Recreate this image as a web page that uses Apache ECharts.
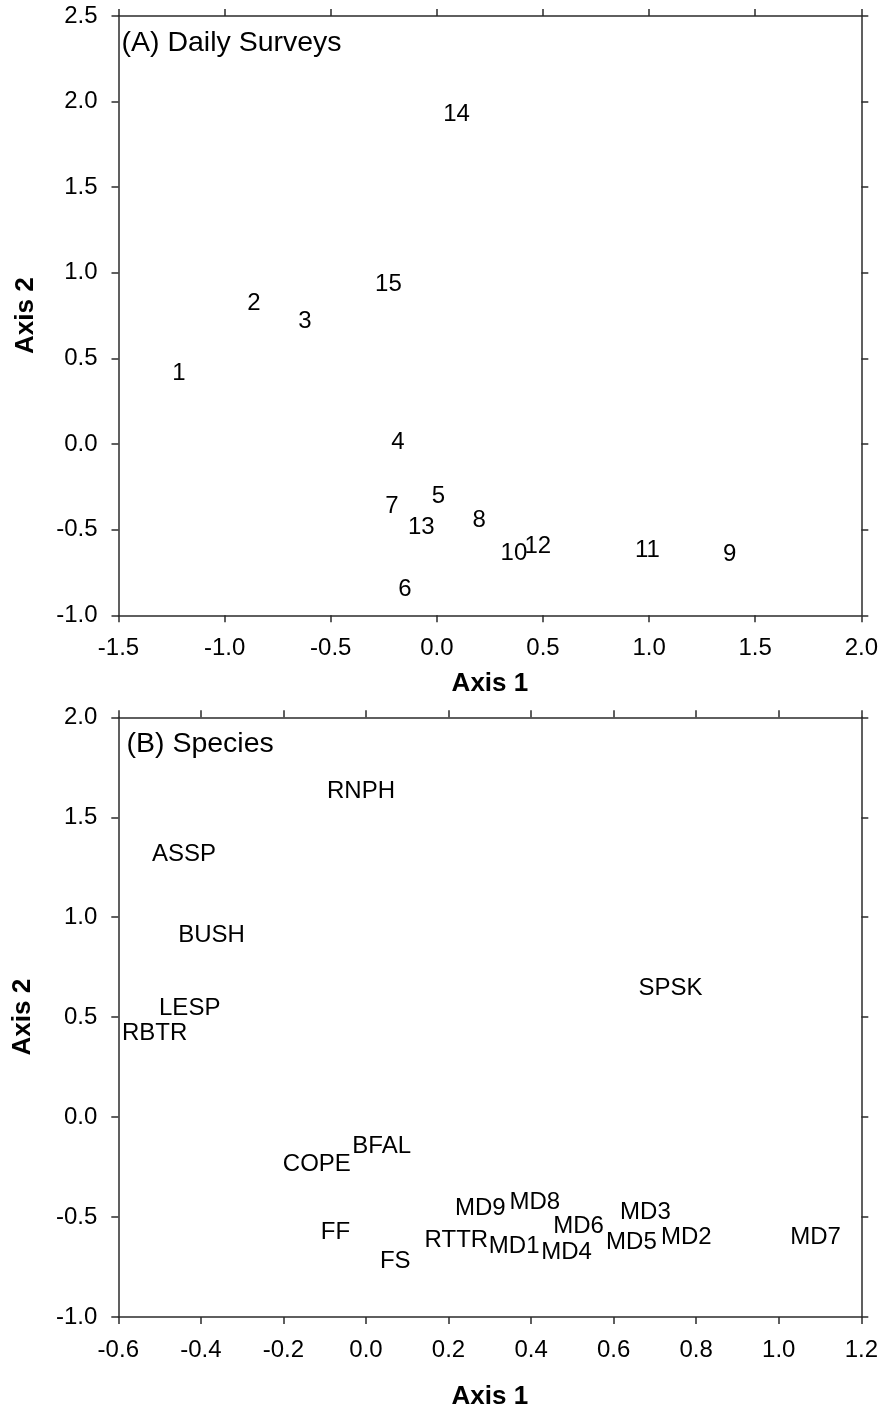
<!DOCTYPE html>
<html>
<head>
<meta charset="utf-8">
<script src="https://cdn.jsdelivr.net/npm/echarts@6/dist/echarts.min.js"></script>
<style>
  html, body { margin: 0; padding: 0; background: #fff; }
  #chart { width: 881px; height: 1411px; }
</style>
</head>
<body>
<div id="chart"></div>
<script>
// (A) daily surveys: ordination scores
const dayLabels = ['1', '2', '3', '4', '5', '6', '7', '8', '9', '10', '11', '12', '13', '14', '15'];
const dayAxis1 = [-1.215, -0.862, -0.622, -0.183, 0.007, -0.150, -0.212, 0.200, 1.380, 0.363, 0.992, 0.476, -0.073, 0.093, -0.228];
const dayAxis2 = [0.426, 0.832, 0.730, 0.023, -0.292, -0.838, -0.350, -0.435, -0.634, -0.625, -0.607, -0.584, -0.473, 1.935, 0.943];

// (B) species scores
const speciesLabels = ['RNPH', 'ASSP', 'BUSH', 'LESP', 'RBTR', 'SPSK', 'COPE', 'BFAL', 'FF', 'FS', 'RTTR',
  'MD9', 'MD8', 'MD1', 'MD6', 'MD4', 'MD3', 'MD5', 'MD2', 'MD7'];
const speciesAxis1 = [-0.012, -0.441, -0.374, -0.427, -0.512, 0.738, -0.119, 0.038, -0.074, 0.071, 0.219,
  0.277, 0.409, 0.359, 0.515, 0.486, 0.677, 0.643, 0.776, 1.089];
const speciesAxis2 = [1.638, 1.326, 0.921, 0.553, 0.430, 0.656, -0.224, -0.137, -0.566, -0.714, -0.607,
  -0.446, -0.418, -0.635, -0.535, -0.668, -0.466, -0.618, -0.593, -0.593];

// axis ranges [min, max, interval]
const dayXRange = [-1.5, 2.0, 0.5];
const dayYRange = [-1.0, 2.5, 0.5];
const speciesXRange = [-0.6, 1.2, 0.2];
const speciesYRange = [-1.0, 2.0, 0.5];

const FONT = "'Liberation Sans', Arial, sans-serif";
const lineStyle = { color: '#2b2b2b', width: 1.5 };

function toPoints(labels, xs, ys) {
  return labels.map((name, i) => ({ name: name, value: [xs[i], ys[i]] }));
}

function valueAxis(range, gridIndex, position, showLabel, extra) {
  return Object.assign({
    type: 'value',
    gridIndex: gridIndex,
    position: position,
    min: range[0],
    max: range[1],
    interval: range[2],
    axisLine: { show: true, onZero: false, lineStyle: lineStyle },
    axisTick: { show: true, inside: false, length: 7, lineStyle: lineStyle },
    splitLine: { show: false },
    axisLabel: {
      show: showLabel,
      margin: 21,
      color: '#000',
      fontFamily: FONT,
      fontSize: 24,
      formatter: v => v.toFixed(1)
    }
  }, extra || {});
}

function axisName(text, gap) {
  return {
    name: text,
    nameLocation: 'middle',
    nameGap: gap,
    nameTextStyle: { color: '#000', fontFamily: FONT, fontSize: 26, fontWeight: 'bold' }
  };
}

function labelSeries(xIdx, yIdx, points) {
  return {
    type: 'scatter',
    xAxisIndex: xIdx,
    yAxisIndex: yIdx,
    symbol: 'circle',
    symbolSize: 0,
    itemStyle: { color: '#000' },
    emphasis: { disabled: true },
    label: {
      show: true,
      position: 'inside',
      offset: [0, 2],
      formatter: p => p.name,
      color: '#000',
      opacity: 1,
      textBorderWidth: 0,
      fontFamily: FONT,
      fontSize: 24
    },
    data: points
  };
}

const chart = echarts.init(document.getElementById('chart'));
chart.setOption({
  animation: false,
  backgroundColor: '#fff',
  grid: [
    { left: 118.5, top: 16, width: 743.2, height: 599.3 },
    { left: 118.3, top: 717.3, width: 743.4, height: 600 }
  ],
  xAxis: [
    valueAxis(dayXRange, 0, 'bottom', true, axisName('Axis 1', 56)),
    valueAxis(dayXRange, 0, 'top', false),
    valueAxis(speciesXRange, 1, 'bottom', true, axisName('Axis 1', 67)),
    valueAxis(speciesXRange, 1, 'top', false)
  ],
  yAxis: [
    valueAxis(dayYRange, 0, 'left', true, Object.assign(axisName('Axis 2', 80), { nameRotate: 90 })),
    valueAxis(dayYRange, 0, 'right', false),
    valueAxis(speciesYRange, 1, 'left', true, Object.assign(axisName('Axis 2', 82), { nameRotate: 90 })),
    valueAxis(speciesYRange, 1, 'right', false)
  ],
  graphic: [
    {
      type: 'text', left: 121.5, top: 28.5,
      style: { text: '(A) Daily Surveys', fill: '#000', font: '28.5px ' + FONT }
    },
    {
      type: 'text', left: 126.5, top: 730,
      style: { text: '(B) Species', fill: '#000', font: '28.5px ' + FONT }
    }
  ],
  series: [
    labelSeries(0, 0, toPoints(dayLabels, dayAxis1, dayAxis2)),
    labelSeries(2, 2, toPoints(speciesLabels, speciesAxis1, speciesAxis2))
  ]
});
</script>
</body>
</html>
